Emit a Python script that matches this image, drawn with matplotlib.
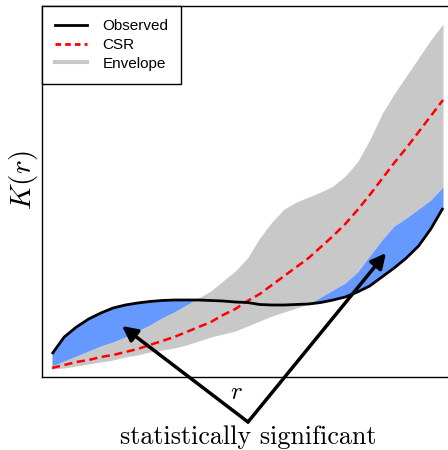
import matplotlib
matplotlib.use("Agg")
import matplotlib.pyplot as plt
from matplotlib.lines import Line2D
import numpy as np

# r positions (fraction of the plotted range, 33 samples)
r = [k / 32 for k in range(33)]
# K(r) values (arbitrary units)
observed = [23, 40, 50, 58, 64, 69, 72, 74, 75.5, 76.5, 77, 77, 77, 76.5, 76, 75,
            74.5, 72.5, 72, 72, 72.5, 73, 74.5, 77, 80, 85, 91, 100, 109, 119,
            131, 148, 169]
env_upper = [11, 16, 21, 26, 31, 35, 40, 46, 52, 59, 65, 72, 79, 86, 96, 106,
             119, 139, 155, 168, 175, 180, 185, 191, 201, 215, 237, 263, 283,
             301, 319, 337, 353]
env_lower = [8, 9, 11, 13, 15, 17, 20, 22, 25, 27, 29, 32, 36, 40, 43, 46, 51,
             56, 61, 65, 69, 73, 80, 87, 94, 105, 121, 137, 151, 159, 168, 177,
             190]
csr = [9, 12, 15, 17, 20, 22, 25, 28, 32, 36, 40, 45, 50, 55, 62, 68, 76, 83,
       92, 101, 110, 119, 130, 141, 153, 167, 182, 198, 214, 229, 245, 261, 277]

r_a = np.array(r)
obs_a = np.array(observed, float)
up_a = np.array(env_upper, float)
lo_a = np.array(env_lower, float)

plt.rcParams['mathtext.fontset'] = 'cm'
fig = plt.figure(figsize=(4.48, 4.5), dpi=100)
W, H = 448, 450
ax = fig.add_axes([42 / W, 73 / H, 407 / W, 371 / H])

gray = '#c8c8c8'
blue = '#6699ff'
ax.fill_between(r_a, lo_a, up_a, color=gray, lw=0, zorder=1)
ax.fill_between(r_a, up_a, obs_a, where=obs_a >= up_a, interpolate=True,
                color=blue, lw=0, zorder=2)
ax.fill_between(r_a, obs_a, lo_a, where=obs_a <= lo_a, interpolate=True,
                color=blue, lw=0, zorder=2)
ax.plot(r_a, csr, color='red', ls=(0, (3.3, 1.8)), lw=1.8, zorder=3)
ax.plot(r_a, obs_a, color='black', lw=2.0, zorder=4, solid_capstyle='butt',
        solid_joinstyle='round')

ax.set_xlim(-10 / 391, 1 + 6 / 391)
ax.set_ylim(0, 371)
ax.set_xticks([])
ax.set_yticks([])
for s in ax.spines.values():
    s.set_linewidth(1.0)

handles = [Line2D([], [], color='black', lw=2.0),
           Line2D([], [], color='red', lw=2.0, ls=(0, (2, 1.5))),
           Line2D([], [], color=gray, lw=3.0)]
leg = ax.legend(handles, ['Observed', 'CSR', 'Envelope'], loc='upper left',
                prop={'family': 'Liberation Sans', 'size': 11},
                frameon=True, fancybox=False, framealpha=1, edgecolor='black',
                borderaxespad=0, handlelength=2.1, labelspacing=0.32,
                borderpad=0.85, handletextpad=1.0)
leg.get_frame().set_linewidth(1.0)

fig.text(24 / W, 1 - 180 / H, r'$K(r)$', rotation=90, fontsize=21,
         ha='center', va='center')
fig.text(236 / W, 1 - 392 / H, r'$r$', fontsize=18, ha='center', va='center')
fig.text(248 / W, 1 - 437 / H, 'statistically significant', fontsize=18.8,
         family='cmr10', ha='center', va='center')

start = (248 / W, 1 - 422 / H)
for tip in [((122 - 52) / 391, 377 - 326), ((386 - 52) / 391, 377 - 253)]:
    ax.annotate('', xy=tip, xycoords='data', xytext=start,
                textcoords='figure fraction', annotation_clip=False,
                arrowprops=dict(arrowstyle='-|>,head_length=0.9,head_width=0.45',
                                color='black', lw=2.5, shrinkA=0, shrinkB=0),
                zorder=5)

fig.savefig('out.png', dpi=100)
